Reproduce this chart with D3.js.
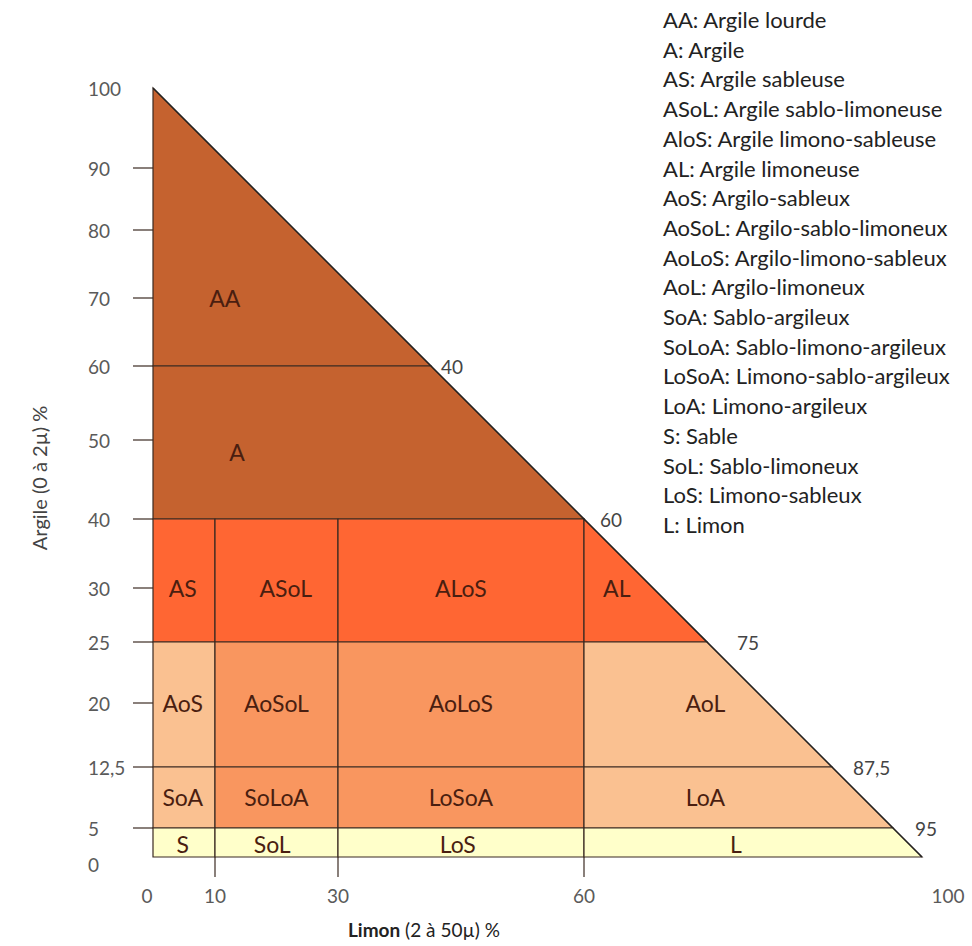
<!DOCTYPE html>
<html><head><meta charset="utf-8">
<script src="https://cdn.jsdelivr.net/npm/d3@7"></script>
<style>
html,body{margin:0;padding:0;background:#fff;}
text{font-family:Lato,"Open Sans",sans-serif;}
</style></head>
<body><svg id="c" width="972" height="946"></svg>
<script>
// ---- data ----
const argileTicks = [5, 12.5, 20, 25, 30, 40, 50, 60, 70, 80, 90];
const argileLabelValues = [0,5,12.5,20,25,30,40,50,60,70,80,90,100];
const argileTickLabels = ["0","5","12,5","20","25","30","40","50","60","70","80","90","100"];
const limonTickValues = [0, 10, 30, 60, 100];
const limonTickLabels = ["0","10","30","60","100"];
const hypoValues = [40, 60, 75, 87.5, 95];          // limon at hypotenuse
const hypoLabels = ["40","60","75","87,5","95"];
const classBoundsLimon = [10, 30, 60];

const regionCodes = ["AA","A","AS","ASoL","ALoS","AL","AoS","AoSoL","AoLoS","AoL","SoA","SoLoA","LoSoA","LoA","S","SoL","LoS","L"];
const regionGroups = ["g1","g1","g2","g2","g2","g2","g3","g4","g4","g3","g3","g4","g4","g3","g5","g5","g5","g5"];
// polygon vertices [limon, argile]
const regionPolys = [
  [[0,60],[0,100],[40,60]],
  [[0,40],[0,60],[40,60],[60,40]],
  [[0,25],[0,40],[10,40],[10,25]],
  [[10,25],[10,40],[30,40],[30,25]],
  [[30,25],[30,40],[60,40],[60,25]],
  [[60,25],[60,40],[75,25]],
  [[0,12.5],[0,25],[10,25],[10,12.5]],
  [[10,12.5],[10,25],[30,25],[30,12.5]],
  [[30,12.5],[30,25],[60,25],[60,12.5]],
  [[60,12.5],[60,25],[75,25],[87.5,12.5]],
  [[0,5],[0,12.5],[10,12.5],[10,5]],
  [[10,5],[10,12.5],[30,12.5],[30,5]],
  [[30,5],[30,12.5],[60,12.5],[60,5]],
  [[60,5],[60,12.5],[87.5,12.5],[95,5]],
  [[0,0],[0,5],[10,5],[10,0]],
  [[10,0],[10,5],[30,5],[30,0]],
  [[30,0],[30,5],[60,5],[60,0]],
  [[60,0],[60,5],[95,5],[100,0]]
];
// label anchor [limon, argile]
const regionLabelPts = [
  [11.6,70],[13.6,48.5],[4.8,30],[21.5,30],[43.9,30],[64,30],
  [4.8,20],[20,20],[43.9,20],[74.8,20],[4.8,8.8],[20,8.8],[43.9,8.8],[74.8,8.8],
  [4.8,2.2],[19.3,2.2],[43.5,2.2],[77.9,2.2]
];
const legendCodes = ["AA","A","AS","ASoL","AloS","AL","AoS","AoSoL","AoLoS","AoL","SoA","SoLoA","LoSoA","LoA","S","SoL","LoS","L"];
const legendNames = ["Argile lourde","Argile","Argile sableuse","Argile sablo-limoneuse","Argile limono-sableuse","Argile limoneuse","Argilo-sableux","Argilo-sablo-limoneux","Argilo-limono-sableux","Argilo-limoneux","Sablo-argileux","Sablo-limono-argileux","Limono-sablo-argileux","Limono-argileux","Sable","Sablo-limoneux","Limono-sableux","Limon"];

// ---- scales (the reference diagram is drawn on a non-uniform grid) ----
const y = d3.scaleLinear()
  .domain([0,5,12.5,20,25,30,40,50,60,70,80,90,100])
  .range([857,828,767,703,642,588,519,440,366,298,230,168,88]);
const x = d3.scaleLinear()
  .domain([0,10,30,40,60,75,87.5,95,100])
  .range([153,215,338,431,584,707,832,893,922]);

const color = d3.scaleOrdinal()
  .domain(["g1","g2","g3","g4","g5"])
  .range(["#C5622F","#FF6633","#FAC191","#F9965F","#FFFFCA"]);

const svg = d3.select("#c");
const lineCol = "#3b2a22";

// regions
svg.append("g").selectAll("path").data(regionPolys).join("path")
  .attr("d", p => "M" + p.map(v => [x(v[0]), y(v[1])].join(",")).join("L") + "Z")
  .attr("fill", (p,i) => color(regionGroups[i]))
  .attr("stroke", lineCol).attr("stroke-width", 1.2);

// hypotenuse
svg.append("line")
  .attr("x1", x(0)).attr("y1", y(100)).attr("x2", x(100)).attr("y2", y(0))
  .attr("stroke", "#222").attr("stroke-width", 1.3);

// left ticks
svg.append("g").selectAll("line").data(argileTicks).join("line")
  .attr("x1", x(0) - 20).attr("x2", x(0))
  .attr("y1", d => y(d)).attr("y2", d => y(d))
  .attr("stroke", lineCol).attr("stroke-width", 1.2);

// bottom tick extensions
svg.append("g").selectAll("line").data(classBoundsLimon).join("line")
  .attr("x1", d => x(d)).attr("x2", d => x(d))
  .attr("y1", y(0)).attr("y2", y(0) + 20)
  .attr("stroke", lineCol).attr("stroke-width", 1.2);

const tickFont = 19, tickCol = "#5a5a5a";
// y tick labels
svg.append("g").selectAll("text").data(argileLabelValues).join("text")
  .attr("x", 88).attr("y", d => y(d) + (d === 0 ? 7 : 0))
  .attr("dominant-baseline", "central")
  .attr("font-size", tickFont).attr("fill", tickCol)
  .text((d,i) => argileTickLabels[i]);

// x tick labels
const xLabelShift = {0: -6, 100: 26};
svg.append("g").selectAll("text").data(limonTickValues).join("text")
  .attr("x", d => x(d) + (xLabelShift[d] || 0))
  .attr("y", 903)
  .attr("text-anchor", "middle")
  .attr("font-size", tickFont).attr("fill", tickCol)
  .text((d,i) => limonTickLabels[i]);

// hypotenuse labels
const hypoShift = {40: 10, 60: 16, 75: 30, 87.5: 21, 95: 22};
svg.append("g").selectAll("text").data(hypoValues).join("text")
  .attr("x", d => x(d) + hypoShift[d])
  .attr("y", d => y(100 - d))
  .attr("dominant-baseline", "central")
  .attr("font-size", tickFont).attr("fill", "#444")
  .text((d,i) => hypoLabels[i]);

// region labels
svg.append("g").selectAll("text").data(regionLabelPts).join("text")
  .attr("x", d => x(d[0])).attr("y", d => y(d[1]))
  .attr("text-anchor", "middle").attr("dominant-baseline", "central")
  .attr("font-size", 23).attr("fill", "#4a1e10")
  .text((d,i) => regionCodes[i]);

// legend
const leg = svg.append("g");
const legTexts = leg.selectAll("text").data(legendCodes).join("text")
  .attr("x", 663).attr("y", (d,i) => 28 + i * 29.7)
  .attr("font-size", 20).attr("fill", "#222")
  .text((d,i) => d + ": " + legendNames[i]);
// fit the widest legend line to the reference width
let maxW = 0;
legTexts.each(function(){ maxW = Math.max(maxW, this.getComputedTextLength()); });
if (maxW > 0) legTexts.attr("font-size", 20 * 287 / maxW);

// axis titles
svg.append("text")
  .attr("transform", "translate(47,478) rotate(-90)")
  .attr("text-anchor", "middle").attr("font-size", 20).attr("fill", "#444")
  .text("Argile (0 à 2µ) %");
const xt = svg.append("text")
  .attr("x", 348).attr("y", 937)
  .attr("font-size", 19).attr("fill", "#222");
xt.append("tspan").attr("font-weight", "bold").text("Limon");
xt.append("tspan").text(" (2 à 50µ) %");
</script></body></html>
